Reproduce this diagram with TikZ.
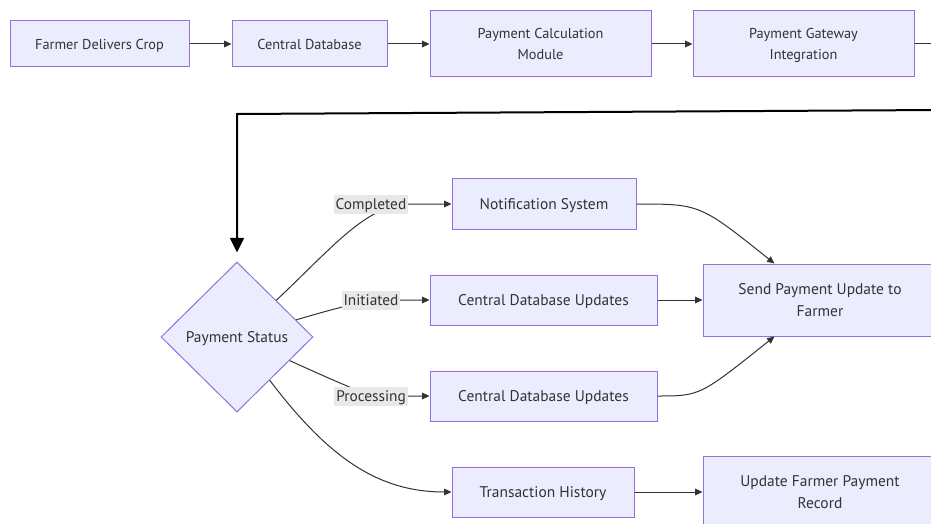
\documentclass[tikz,border=0pt]{standalone}
\usepackage{fontspec}
\setmainfont{PT Sans}
\usetikzlibrary{arrows.meta,shapes.geometric}
\definecolor{ink}{HTML}{333333}
\definecolor{boxFill}{HTML}{ECECFF}
\definecolor{boxLine}{HTML}{9370DB}
\definecolor{labFill}{HTML}{E8E8E8}
\tikzset{
  >={Triangle[length=5.5pt,width=5pt]},
  proc/.style={draw=boxLine,fill=boxFill,line width=0.75pt,font=\fontsize{11.6}{16.5}\selectfont,
    text=ink,align=center,inner sep=1pt,text depth=0pt},
  topproc/.style={proc,font=\fontsize{10.75}{15.5}\selectfont},
  decide/.style={diamond,draw=boxLine,fill=boxFill,line width=0.75pt,font=\fontsize{11.6}{16.5}\selectfont,
    text=ink,inner sep=0pt,text depth=0pt,minimum width=114pt,minimum height=112.5pt},
  flow/.style={->,ink,line width=0.75pt},
  elab/.style={fill=labFill,font=\fontsize{11.5}{16}\selectfont,text=ink,inner xsep=1.5pt,
    inner ysep=0pt,text depth=0pt,minimum height=14.25pt},
  loopback/.style={-{Triangle[length=11pt,width=10.5pt]},black,line width=1.5pt},
}

\begin{document}
\begin{tikzpicture}[x=0.75pt,y=-0.75pt]
\useasboundingbox (0,0) rectangle (931,524);
\clip (0,0) rectangle (931,524);

% ---------- top row ----------
\node[topproc,minimum width=134.25pt,minimum height=34.5pt] (farmer) at (99.5,44) {Farmer Delivers Crop};
\node[topproc,minimum width=116.25pt,minimum height=34.5pt] (cdb) at (309.5,44) {Central Database};
\node[topproc,minimum width=165.75pt,minimum height=49.5pt] (calc) at (540.5,44) {Payment Calculation\\Module};
\node[topproc,minimum width=165.75pt,minimum height=49.5pt] (gate) at (803.5,44) {Payment Gateway\\Integration};
\draw[flow] (farmer) -- (cdb);
\draw[flow] (cdb) -- (calc);
\draw[flow] (calc) -- (gate);

% ---------- status and branches ----------
\node[decide] (stat) at (237,337) {Payment Status};
\node[proc,minimum width=138pt,minimum height=37.5pt] (notif) at (544,204) {Notification System};
\node[proc,minimum width=170.25pt,minimum height=37.5pt] (upd1) at (543.5,300) {Central Database Updates};
\node[proc,minimum width=170.25pt,minimum height=37.5pt] (upd2) at (543.5,396) {Central Database Updates};
\node[proc,minimum width=136.5pt,minimum height=37.5pt] (hist) at (543,492) {Transaction History};
\node[proc,minimum width=175.5pt,minimum height=54pt] (send) at (820,300) {Send Payment Update to\\Farmer};
\node[proc,minimum width=175.5pt,minimum height=54pt] (rec) at (820,492) {Update Farmer Payment\\Record};

% ---------- loop back from gateway ----------
\coordinate (gOut) at (940,44);
\coordinate (turnR) at (940,110);
\coordinate (turnL) at (237,114);
\draw[ink,line width=0.75pt] (gate) -- (gOut);
\draw[loopback,shorten >=6.75pt] (turnR) -- (turnL) -- (stat);

% ---------- branch edges ----------
\coordinate (cCompl) at (371,204);
\coordinate (cInit) at (371,300);
\coordinate (cProc) at (371,396);
\draw[flow] (stat) .. controls (330,250) and (365,206) .. ([xshift=27pt]cCompl) -- (notif);
\draw[flow] (stat) .. controls (330,310) .. (cInit) -- (upd1);
\draw[flow] (stat) .. controls (335,381) .. (cProc) -- (upd2);
\draw[flow] (stat) .. controls (330,460) and (380,492) .. (hist);
\node[elab] (lCompl) at (cCompl) {Completed};
\node[elab] (lInit) at (cInit) {Initiated};
\node[elab] (lProc) at (cProc) {Processing};

% ---------- to farmer ----------
\draw[flow] (notif) .. controls (700,204) .. (send);
\draw[flow] (upd1) -- (send);
\draw[flow] (upd2) .. controls (700,396) .. (send);
\draw[flow] (hist) -- (rec);

\end{tikzpicture}
\end{document}
